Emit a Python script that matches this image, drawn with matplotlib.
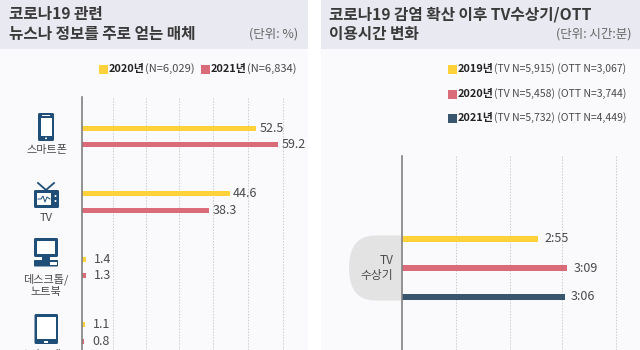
# Imports
import matplotlib
matplotlib.use("Agg")
import matplotlib.pyplot as plt
from matplotlib.patches import Rectangle, FancyBboxPatch, Circle, PathPatch
from matplotlib.path import Path

plt.rcParams['font.family'] = ['Noto Sans CJK KR', 'DejaVu Sans']

# Dados - painel esquerdo
categorias = ['스마트폰', 'TV', '데스크톱/\n노트북', '스마트패드']
valores_2020 = [52.5, 44.6, 1.4, 1.1]
valores_2021 = [59.2, 38.3, 1.3, 0.8]
grade_esq = [9.4, 19.3, 29.2, 39.5, 50, 60.6]

# Dados - painel direito (comprimento das barras em horas)
anos_tv = ['2019', '2020', '2021']
rotulos_tv = ['2:55', '3:09', '3:06']
barras_tv = [2.52, 3.07, 3.02]
grade_dir = [1, 2, 2.97, 3.97]

AMARELO = '#FFD23C'
ROSA = '#D96C78'
AZUL = '#3A566E'
AZUL_ICONE = '#1F4E79'
FUNDO = '#FAFAFD'
FAIXA = '#E9E9F1'
TITULO = '#3A3A3A'
TEXTO = '#4A4A4A'
W, H = 640, 350

fig = plt.figure(figsize=(6.4, 3.5), dpi=100, facecolor='white')


def eixo_px(x0, y0, x1, y1):
    return fig.add_axes([x0 / W, 1 - y1 / H, (x1 - x0) / W, (y1 - y0) / H])


# Camada de fundo em pixels
bg = eixo_px(0, 0, W, H)
bg.set_xlim(0, W)
bg.set_ylim(H, 0)
bg.axis('off')
for x0, x1 in [(0, 308), (321, 640)]:
    bg.add_patch(Rectangle((x0, 0), x1 - x0, H, fc=FUNDO, ec='none'))
    bg.add_patch(Rectangle((x0, 0), x1 - x0, 49, fc=FAIXA, ec='none'))

# Titulos
bg.text(9, 14.5, '코로나19 관련', fontsize=11.3, fontweight='bold', color=TITULO, va='center')
bg.text(9, 34.5, '뉴스나 정보를 주로 얻는 매체', fontsize=11.3, fontweight='bold', color=TITULO, va='center')
bg.text(298, 34, '(단위: %)', fontsize=9, color='#666666', va='center', ha='right')
bg.text(329, 14.5, '코로나19 감염 확산 이후 TV수상기/OTT', fontsize=11.3, fontweight='bold', color=TITULO, va='center')
bg.text(329, 34.5, '이용시간 변화', fontsize=11.3, fontweight='bold', color=TITULO, va='center')
bg.text(631, 34, '(단위: 시간:분)', fontsize=9, color='#666666', va='center', ha='right')

# Legendas
def legenda(x, y, cor, ano, resto, tam):
    bg.add_patch(Rectangle((x, y - 4.5), 9, 9, fc=cor, ec='none'))
    t = bg.text(x + 10, y, ano, fontsize=7.9, fontweight='bold', color='#222222', va='center')
    fig.canvas.draw()
    bb = t.get_window_extent().transformed(bg.transData.inverted())
    bg.text(bb.x1, y, resto, fontsize=tam, color=TEXTO, va='center')


legenda(99, 69, AMARELO, '2020년', '(N=6,029)', 8)
legenda(201, 69, ROSA, '2021년', '(N=6,834)', 8)
legenda(448, 69, AMARELO, '2019년', '(TV N=5,915) (OTT N=3,067)', 7.5)
legenda(448, 94, ROSA, '2020년', '(TV N=5,458) (OTT N=3,744)', 7.5)
legenda(448, 118, AZUL, '2021년', '(TV N=5,732) (OTT N=4,449)', 7.5)

# Painel esquerdo
esq = eixo_px(81.7, 97, 308, 350)
esq.patch.set_alpha(0)
esq.set_xlim(0, (308 - 81.7) / 3.32)
esq.set_ylim(350, 97)
pos_2020 = [128.7, 194, 259.7, 325]
pos_2021 = [144.7, 210.3, 276, 341.3]
esq.barh(pos_2020, valores_2020, height=5, color=AMARELO)
esq.barh(pos_2021, valores_2021, height=5, color=ROSA)
for y, v in zip(pos_2020 + pos_2021, valores_2020 + valores_2021):
    esq.annotate(f'{v}', (v, y), xytext=(5.5 if v < 5 else 2.5, 0), textcoords='offset points',
                 fontsize=9, color=TEXTO, va='center')
for g in grade_esq:
    esq.axvline(g, color='#CCCCCC', lw=0.7, ls=(0, (1.5, 1.5)), zorder=0)
esq.set_xticks([])
esq.set_yticks([])
for lado in ['top', 'right', 'bottom']:
    esq.spines[lado].set_visible(False)
esq.spines['left'].set_color('#808080')
esq.spines['left'].set_linewidth(1.2)

# Painel direito
dir_ax = eixo_px(401.7, 156, 640, 350)
dir_ax.patch.set_alpha(0)
dir_ax.set_xlim(0, (640 - 401.7) / 54.0)
dir_ax.set_ylim(350, 156)
pos_tv = [239, 268, 297]
for y, v, c, r in zip(pos_tv, barras_tv, [AMARELO, ROSA, AZUL], rotulos_tv):
    dir_ax.barh(y, v, height=6.5, color=c)
    dir_ax.annotate(r, (v, y), xytext=(4.5, 0), textcoords='offset points',
                    fontsize=9, color=TEXTO, va='center')
for g in grade_dir:
    dir_ax.axvline(g, color='#CCCCCC', lw=0.7, ls=(0, (1.5, 1.5)), zorder=0)
dir_ax.set_xticks([])
dir_ax.set_yticks([])
for lado in ['top', 'right', 'bottom']:
    dir_ax.spines[lado].set_visible(False)
dir_ax.spines['left'].set_color('#808080')
dir_ax.spines['left'].set_linewidth(1.2)

# Rotulo cinza do TV
verts = [(401, 235.5), (375, 235.5), (349, 235.5), (349, 268), (349, 300.5), (375, 300.5), (401, 300.5), (401, 235.5)]
codes = [Path.MOVETO, Path.LINETO, Path.CURVE3, Path.CURVE3, Path.CURVE3, Path.CURVE3, Path.LINETO, Path.CLOSEPOLY]
bg.add_patch(PathPatch(Path(verts, codes), fc='#E3E3E3', ec='none'))
bg.text(393, 268, 'TV\n수상기', fontsize=8.5, color=TEXTO, ha='right', va='center', linespacing=1.15)

# Rotulos das categorias
bg.text(46.5, 150, categorias[0], fontsize=8, color=TEXTO, ha='center', va='center')
bg.text(46.5, 218, categorias[1], fontsize=8, color=TEXTO, ha='center', va='center')
bg.text(46, 285, categorias[2], fontsize=8, color=TEXTO, ha='center', va='center', linespacing=1.3)
bg.text(46, 355, categorias[3], fontsize=8, color=TEXTO, ha='center', va='center', clip_on=True)

# Icones
def caixa(x, y, w, h, fc=AZUL_ICONE, r=1.5):
    bg.add_patch(FancyBboxPatch((x + r, y + r), w - 2 * r, h - 2 * r,
                                boxstyle=f'round,pad={r}', fc=fc, ec='none'))


# celular
caixa(38, 113, 16, 28)
bg.add_patch(Rectangle((40.5, 117.5), 11, 18.5, fc='white', ec='none'))
bg.add_patch(Rectangle((42, 115), 8, 1, fc='white', ec='none'))
bg.add_patch(Circle((46, 138.3), 1, fc='white', ec='none'))
# tv
bg.plot([46, 38], [190, 183], color=AZUL_ICONE, lw=1.3)
bg.plot([46, 54], [190, 183], color=AZUL_ICONE, lw=1.3)
caixa(34, 190, 25, 18)
bg.add_patch(Rectangle((37, 193), 14, 12, fc='white', ec='none'))
bg.plot([38, 41, 43, 45, 47, 50], [199, 199, 196, 202, 197, 199], color=AZUL_ICONE, lw=0.7)
bg.add_patch(Circle((55.5, 196), 1, fc='white', ec='none'))
bg.add_patch(Circle((55.5, 201), 1, fc='white', ec='none'))
# desktop
caixa(34, 238, 24, 19)
bg.add_patch(Rectangle((37, 241), 18, 13, fc='white', ec='none'))
bg.add_patch(Rectangle((42, 257), 8, 3, fc=AZUL_ICONE, ec='none'))
caixa(34, 260, 24, 6.5, r=0.8)
bg.add_patch(Rectangle((50, 261.5), 7, 3.5, fc='white', ec='none'))
# tablet
caixa(34.5, 314, 23.5, 30)
bg.add_patch(Rectangle((37, 317), 18.5, 22, fc='white', ec='none'))
bg.add_patch(Rectangle((44, 341), 4, 1.5, fc='white', ec='none'))

fig.savefig('out.png', dpi=100)
